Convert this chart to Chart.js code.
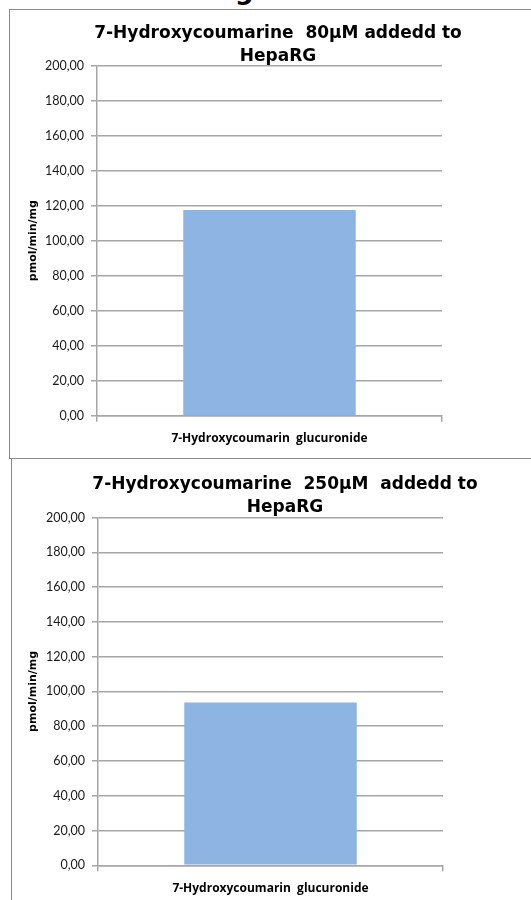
<!DOCTYPE html>
<html>
<head>
<meta charset="utf-8">
<script src="https://cdn.jsdelivr.net/npm/chart.js@4/dist/chart.umd.min.js"></script>
<style>
  html, body { margin: 0; padding: 0; background: #fff; }
  body { width: 531px; height: 900px; overflow: hidden; position: relative; }
  .frame { position: absolute; border: 1px solid #8a8a8a; box-sizing: border-box; }
  canvas { position: absolute; }
  .heading { position: absolute; left: 235px; top: -23px; font: bold 26px "DejaVu Sans"; line-height: 26px; color: #000; white-space: nowrap; }
</style>
</head>
<body>
<div class="heading">g</div>
<div class="frame" style="left:9px; top:9px; width:560px; height:450px;"></div>
<div class="frame" style="left:11px; top:458px; width:560px; height:460px;"></div>
<canvas id="c80" width="536" height="448" style="left:10px; top:10px;"></canvas>
<canvas id="c250" width="546" height="441" style="left:12px; top:459px;"></canvas>
<script>
// Measured metabolite formation rate (pmol/min/mg)
const categories = ['7-Hydroxycoumarin  glucuronide'];
const glucuronide80 = [117.5];
const glucuronide250 = [93.6];
const yTickValues = [0, 20, 40, 60, 80, 100, 120, 140, 160, 180, 200];
const title80 = ['7-Hydroxycoumarine  80µM addedd to', 'HepaRG'];
const title250 = ['7-Hydroxycoumarine  250µM  addedd to', 'HepaRG'];
const yAxisTitle = 'pmol/min/mg';

const GRID = '#a6a6a6';
const BAR = '#8EB4E3';

function fmt(v) { return v.toFixed(2).replace('.', ','); }

function makeChart(id, title, values, geo) {
  return new Chart(document.getElementById(id), {
    type: 'bar',
    data: {
      labels: categories,
      datasets: [{ data: values, backgroundColor: BAR, borderWidth: 0,
                   barPercentage: 0.5, categoryPercentage: 1.0 }]
    },
    options: {
      responsive: false,
      animation: false,
      devicePixelRatio: 1,
      layout: { padding: 0 },
      plugins: {
        legend: { display: false },
        tooltip: { enabled: false },
        title: {
          display: true, text: title, color: '#000',
          font: { family: 'DejaVu Sans', weight: 'bold', size: 17, lineHeight: 1.3 },
          padding: { top: geo.titleTop, bottom: geo.titleBottom }
        }
      },
      scales: {
        x: {
          afterFit: s => { s.height = geo.xHeight; },
          grid: { display: true, drawOnChartArea: false, drawTicks: true, tickLength: 6,
                  offset: true, color: GRID, lineWidth: 1.5 },
          border: { display: true, color: GRID, width: 1.5 },
          ticks: { color: '#000', padding: 10,
                   font: { family: 'Open Sans', weight: 'bold', size: 12 } }
        },
        y: {
          min: 0, max: 200,
          afterFit: s => { s.width = geo.yWidth; },
          afterBuildTicks: s => { s.ticks = yTickValues.map(v => ({ value: v })); },
          grid: { color: GRID, lineWidth: 1.5, tickLength: 6, drawTicks: true },
          border: { display: true, color: GRID, width: 1.5 },
          ticks: { color: '#1a1a1a', padding: 7, callback: v => fmt(v),
                   font: { family: 'Lato', size: 12.5 } },
          title: {
            display: true, text: yAxisTitle, color: '#000',
            font: { family: 'DejaVu Sans', weight: 'bold', size: 11, lineHeight: 1.2 },
            padding: { top: geo.yTitlePad, bottom: 0 }
          }
        },
        // empty margin on the right side of the plot
        side: {
          type: 'linear', position: 'right', display: true,
          afterFit: s => { s.width = geo.right; },
          grid: { display: false }, border: { display: false }, ticks: { display: false }
        }
      }
    }
  });
}

makeChart('c80', title80, glucuronide80,
  { right: 104, titleTop: 13, titleBottom: -1.7, xHeight: 42.3, yWidth: 87, yTitlePad: 16.4 });
makeChart('c250', title250, glucuronide250,
  { right: 115, titleTop: 15, titleBottom: -0.7, xHeight: 34.7, yWidth: 86, yTitlePad: 14.4 });
</script>
</body>
</html>
